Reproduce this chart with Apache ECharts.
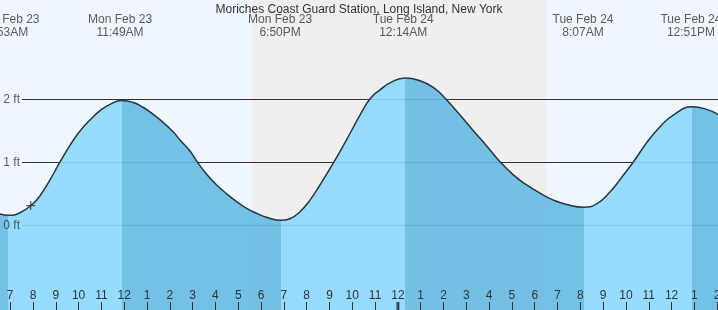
<!DOCTYPE html>
<html><head><meta charset="utf-8">
<script src="https://cdn.jsdelivr.net/npm/echarts@6/dist/echarts.min.js"></script>
<style>html,body{margin:0;padding:0;background:#eef7ff;overflow:hidden}#c{width:718px;height:310px}</style>
</head><body><div id="c"></div>
<script>
// ---- data ----
const chartTitle = 'Moriches Coast Guard Station, Long Island, New York';
// hours since midnight Mon Feb 23
const tideHours = [6.553, 6.918, 7.430, 8.014, 8.307, 8.745, 9.184, 9.622, 10.061, 10.499, 10.938, 11.376, 11.902, 12.399, 12.838, 13.276, 13.715, 14.153,
  14.446, 14.884, 15.206, 15.615, 16.053, 16.492, 16.930, 17.368, 17.807, 18.245, 18.874, 19.268, 19.707, 20.146, 20.584, 21.198, 21.753,
  22.338, 22.806, 23.215, 23.654, 24.312, 24.969, 25.553, 26.109, 26.723, 27.308, 27.892, 28.477, 29.062, 29.646,
  30.231, 30.816, 31.400, 32.150, 32.716, 33.300, 33.811, 34.324, 34.908, 35.493, 36.077, 36.909, 37.540, 38.036];
const tideFeet = [0.179, 0.159, 0.20, 0.349, 0.47, 0.72, 1.005, 1.27, 1.497, 1.67, 1.82, 1.92, 1.98, 1.95, 1.87, 1.76, 1.63, 1.48,
  1.355, 1.18, 1.005, 0.81, 0.64, 0.50, 0.375, 0.27, 0.19, 0.127, 0.08, 0.105, 0.216, 0.40, 0.64, 1.005, 1.36,
  1.75, 2.02, 2.15, 2.26, 2.338, 2.295, 2.19, 2.0, 1.75, 1.50, 1.26, 1.01, 0.80, 0.64,
  0.51, 0.40, 0.33, 0.286, 0.34, 0.53, 0.76, 1.005, 1.31, 1.565, 1.75, 1.88, 1.84, 1.76];
const extremeHours = [6.883, 11.817, 18.833, 24.233, 32.117, 36.85];
const extremeDays = ['Mon Feb 23', 'Mon Feb 23', 'Mon Feb 23', 'Tue Feb 24', 'Tue Feb 24', 'Tue Feb 24'];
const extremeTimes = ['6:53AM', '11:49AM', '6:50PM', '12:14AM', '8:07AM', '12:51PM'];
const hourTicks = [7,8,9,10,11,12,13,14,15,16,17,18,19,20,21,22,23,24,25,26,27,28,29,30,31,32,33,34,35,36,37,38];
const footLines = [0, 1, 2];
const nightStart = 17.60, nightEnd = 30.53;
const nowHour = 7.899, nowFeet = 0.314;
const midnightHour = 24;
const xMin = 6.553, xMax = 38.036, yMin = -1.344, yMax = 3.576;

// ---- styles ----
const FONT = '"Liberation Sans", Arial, sans-serif';
const TXT = '#333';
const DAY = '#eef7ff', NIGHT = '#efefef';
const RISE = 'rgb(140,217,254)', FALL = 'rgb(102,187,227)';

const tideData = tideHours.map((h, i) => [h, tideFeet[i]]);
// rising / falling segments from local extremes in the data
const turns = [];
for (let i = 1; i < tideFeet.length - 1; i++) {
  const a = tideFeet[i - 1], b = tideFeet[i], c = tideFeet[i + 1];
  if ((b <= a && b <= c) || (b >= a && b >= c)) turns.push({h: tideHours[i], low: b <= a});
}
const pieces = [];
let prev = -Infinity;
turns.forEach(t => {
  pieces.push({gte: prev, lt: t.h, color: t.low ? FALL : RISE});
  prev = t.h;
});
const lastLow = turns[turns.length - 1].low;
pieces.push({gte: prev, lte: Infinity, color: lastLow ? RISE : FALL});

const lineStartHour = xMin + 22 * (xMax - xMin) / 718;

const chart = echarts.init(document.getElementById('c'), null, {renderer: 'canvas'});
chart.setOption({
  animation: false,
  backgroundColor: DAY,
  textStyle: {fontFamily: FONT},
  title: {text: chartTitle, left: 'center', top: -1,
    textStyle: {fontSize: 12, fontWeight: 'normal', color: TXT, fontFamily: FONT}},
  grid: {left: 0, right: 0, top: 0, bottom: 0, containLabel: false, outerBoundsMode: 'none'},
  xAxis: {type: 'value', min: xMin, max: xMax, z: 10,
    splitLine: {show: false}, axisLine: {show: false, onZero: false},
    axisTick: {show: true, inside: true, length: 8, customValues: hourTicks, lineStyle: {color: TXT, width: 1}},
    axisLabel: {show: true, inside: true, margin: 8, customValues: hourTicks, fontSize: 12, color: TXT, fontFamily: FONT,
      hideOverlap: false,
      formatter: v => { const h = Math.round(v) % 12; return String(h === 0 ? 12 : h); }}},
  yAxis: {type: 'value', min: yMin, max: yMax, show: false, splitLine: {show: false}},
  visualMap: {show: false, type: 'piecewise', dimension: 0, seriesIndex: 2, pieces: pieces},
  series: [
    {type: 'line', z: 0, data: [], silent: true,
      markArea: {silent: true, z: 0, itemStyle: {color: NIGHT}, data: [[{xAxis: nightStart}, {xAxis: nightEnd}]]}},
    {type: 'line', z: 1, data: [], silent: true,
      markLine: {silent: true, z: 1, symbol: 'none', animation: false,
        lineStyle: {color: TXT, width: 1, type: 'solid'},
        label: {show: false},
        data: footLines.map(f => [{coord: [lineStartHour, f]}, {coord: [xMax, f]}])}},
    {type: 'line', z: 2, data: tideData, smooth: 0.5, showSymbol: false, silent: true,
      lineStyle: {width: 0}, areaStyle: {opacity: 0.9, origin: 'start'}},
    {type: 'line', z: 3, data: tideData, smooth: 0.5, showSymbol: false, silent: true,
      lineStyle: {width: 1.5, color: TXT}},
    {type: 'scatter', z: 4, silent: true, symbol: 'path://M0,5L10,5M5,0L5,10', symbolSize: 9,
      itemStyle: {color: 'transparent', borderColor: TXT, borderWidth: 1.2},
      data: [[nowHour, nowFeet]]},
    {type: 'scatter', z: 11, silent: true, symbol: 'rect', symbolSize: [3, 16], clip: false,
      itemStyle: {color: TXT}, data: [[midnightHour, yMin]]},
    {type: 'scatter', z: 6, silent: true, symbolSize: 0, clip: false,
      data: footLines.map(f => ({value: [lineStartHour, f], ft: f})),
      label: {show: true, position: 'left', distance: 2, color: TXT, fontSize: 12, fontFamily: FONT,
        formatter: p => p.data.ft + ' ft'}},
    {type: 'scatter', z: 5, silent: true, symbolSize: 0, clip: false,
      data: extremeHours.map((h, i) => ({value: [h, yMax], day: extremeDays[i], time: extremeTimes[i]})),
      label: {show: true, position: 'bottom', distance: 13.5, lineHeight: 13, align: 'center',
        color: TXT, fontSize: 12, fontFamily: FONT,
        formatter: p => p.data.day + '\n' + p.data.time}}
  ]
});
</script>
</body></html>
